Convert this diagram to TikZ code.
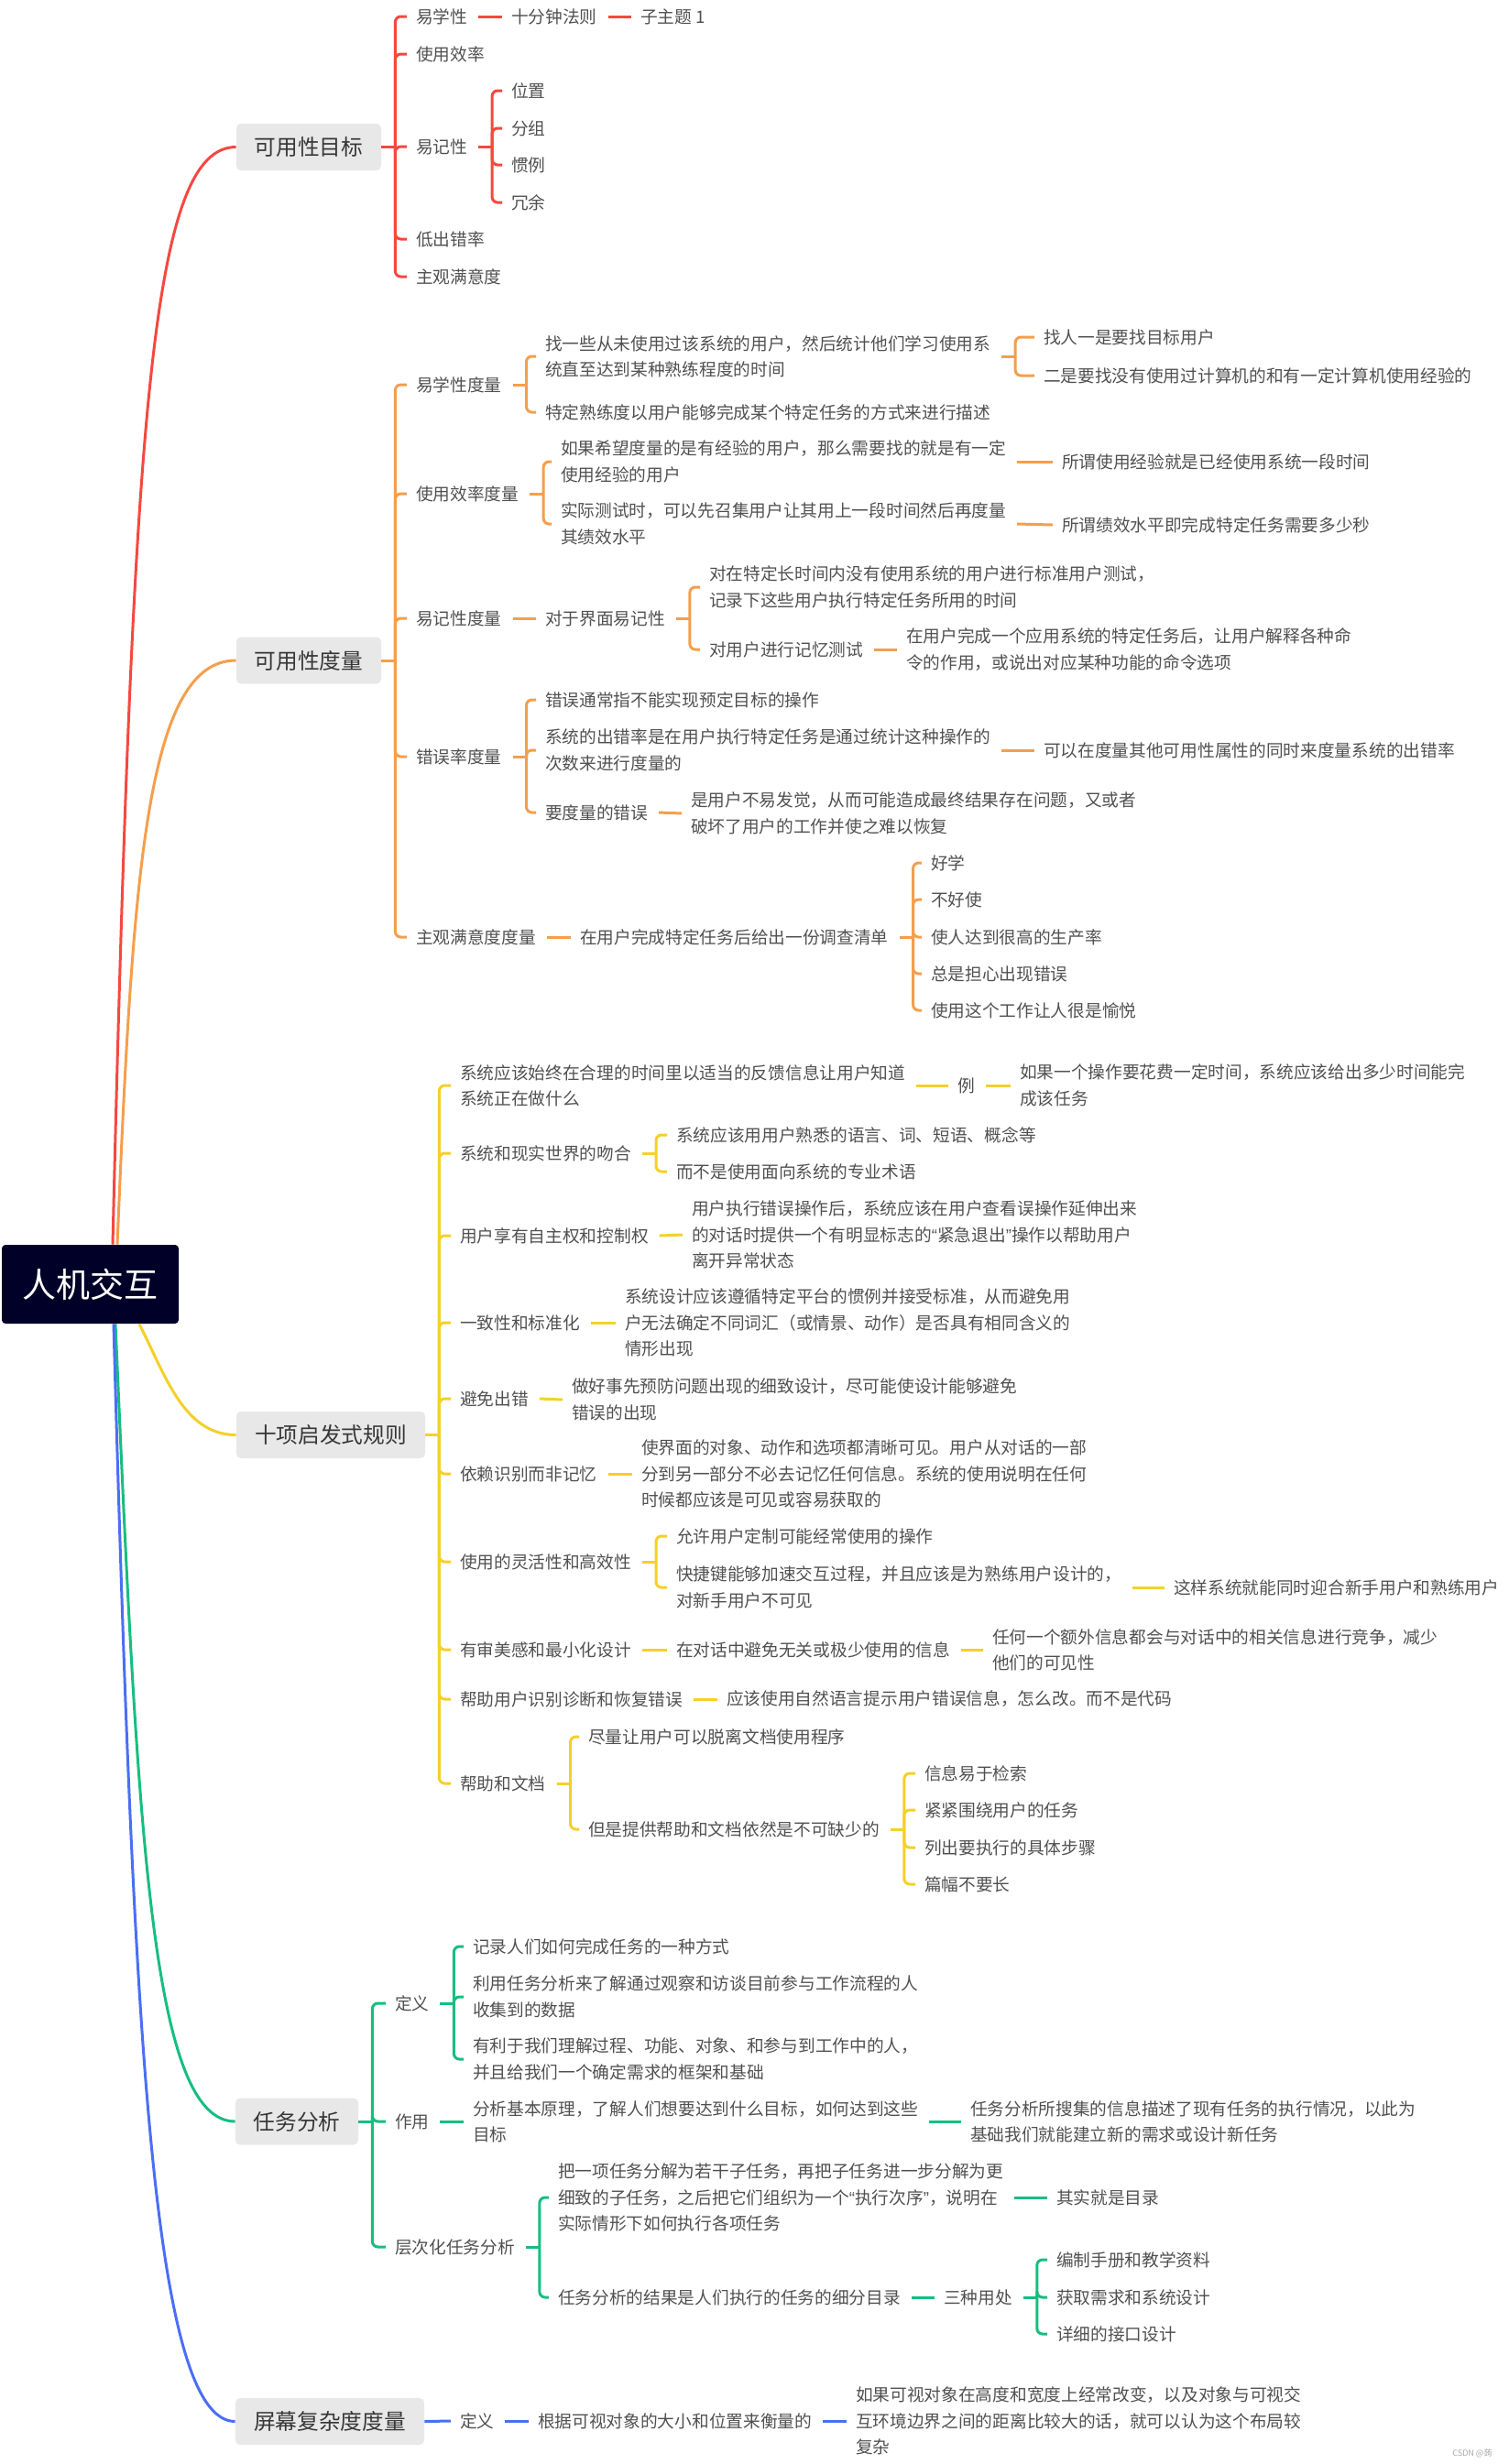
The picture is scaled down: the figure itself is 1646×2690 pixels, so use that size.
\documentclass[tikz,border=0pt]{standalone}
\usepackage{fontspec}
\setmainfont{Noto Sans CJK SC}
\newfontfamily\latinq{Liberation Sans}
\definecolor{cred}{RGB}{245,72,64}
\definecolor{corg}{RGB}{245,158,76}
\definecolor{cyel}{RGB}{245,208,40}
\definecolor{cgrn}{RGB}{22,190,128}
\definecolor{cblu}{RGB}{75,110,245}
\definecolor{boxgray}{RGB}{232,232,232}
\definecolor{rootbg}{RGB}{0,0,40}
\definecolor{txtc}{RGB}{80,80,80}
\definecolor{mtc}{RGB}{55,55,55}
\newcommand\fsmall{\fontsize{9.35pt}{14.2pt}\selectfont}
\newcommand\fmain{\fontsize{11.85pt}{14pt}\selectfont}
\newcommand\froot{\fontsize{18.5pt}{20pt}\selectfont}
\newcommand\lqm{{\latinq “}}
\newcommand\rqm{{\latinq ”}}
% fork: [gap]{style}{parent}{children}
\newcommand\frk[4][6pt]{%
  \draw[#2] ([xshift=#1]#3.east) -- ++(7.5pt,0) coordinate (#3s);
  \foreach \cc in {#4}{\draw[#2,rounded corners=3pt] (#3s) |- ([xshift=-5pt]\cc.west);}
}
% single link
\newcommand\lnk[3]{\draw[#1] ([xshift=6pt]#2.east) -- ([xshift=-5pt]#3.west);}
\begin{document}
\begin{tikzpicture}[x=0.5pt,y=-0.5pt,
  tx/.style={anchor=west,inner sep=0pt,outer sep=0pt,font=\fsmall,text=txtc,align=left},
  mtopic/.style={fill=boxgray,rounded corners=2.5pt,inner sep=0pt,font=\fmain,text=mtc,minimum height=25.5pt},
  lr/.style={draw=cred,line width=1.5pt},
  lo/.style={draw=corg,line width=1.5pt},
  ly/.style={draw=cyel,line width=1.5pt},
  lg/.style={draw=cgrn,line width=1.5pt},
  lb/.style={draw=cblu,line width=1.5pt}]
\useasboundingbox (0,0) rectangle (1646,2690);

% root
\node[fill=rootbg,rounded corners=2pt,minimum width=96.5pt,minimum height=43pt,inner sep=0pt,text=white,font=\froot] (root) at (98.5,1402) {人机交互};

% main topics
\node[mtopic,minimum width=79pt] (g1) at (337,160.5) {可用性目标};
\node[mtopic,minimum width=79pt] (g2) at (337,721) {可用性度量};
\node[mtopic,minimum width=103pt] (g3) at (361,1566.5) {十项启发式规则};
\node[mtopic,minimum width=67pt] (g4) at (324,2316) {任务分析};
\node[mtopic,minimum width=103pt] (g5) at (360,2643.5) {屏幕复杂度度量};

% root curves
\draw[lr] ([xshift=12.25pt]root.north) .. controls (145,450) and (165,160.5) .. (g1.west);
\draw[lo] ([xshift=14.75pt]root.north) .. controls (145,950) and (160,721) .. (g2.west);
\draw[ly] ([xshift=26.75pt]root.south) .. controls (180,1500) and (200,1566.5) .. (g3.west);
\draw[lg] ([xshift=13.75pt]root.south) .. controls (150,2000) and (165,2316) .. (g4.west);
\draw[lb] ([xshift=12.75pt]root.south) .. controls (145,2200) and (165,2643.5) .. (g5.west);

% ===== red branch =====
\node[tx] (a1) at (454,18) {易学性};
\node[tx] (a1a) at (558,18) {十分钟法则};
\node[tx] (a1b) at (699,18) {子主题 1};
\node[tx] (a2) at (454,59) {使用效率};
\node[tx] (a3) at (454,160) {易记性};
\node[tx] (a3a) at (558,99) {位置};
\node[tx] (a3b) at (558,140) {分组};
\node[tx] (a3c) at (558,180) {惯例};
\node[tx] (a3d) at (558,221) {冗余};
\node[tx] (a4) at (454,261) {低出错率};
\node[tx] (a5) at (454,302) {主观满意度};
\frk[0pt]{lr}{g1}{a1,a2,a3,a4,a5}
\lnk{lr}{a1}{a1a}
\lnk{lr}{a1a}{a1b}
\frk{lr}{a3}{a3a,a3b,a3c,a3d}

% ===== orange branch =====
\node[tx] (b1) at (454,420) {易学性度量};
\node[tx] (b1a) at (595,389) {找一些从未使用过该系统的用户，然后统计他们学习使用系\\统直至达到某种熟练程度的时间};
\node[tx] (b1a1) at (1139,368) {找人一是要找目标用户};
\node[tx] (b1a2) at (1139,410) {二是要找没有使用过计算机的和有一定计算机使用经验的};
\node[tx] (b1b) at (595,450) {特定熟练度以用户能够完成某个特定任务的方式来进行描述};
\node[tx] (b2) at (454,539) {使用效率度量};
\node[tx] (b2a) at (612,504) {如果希望度量的是有经验的用户，那么需要找的就是有一定\\使用经验的用户};
\node[tx] (b2a1) at (1159,504) {所谓使用经验就是已经使用系统一段时间};
\node[tx] (b2b) at (612,572) {实际测试时，可以先召集用户让其用上一段时间然后再度量\\其绩效水平};
\node[tx] (b2b1) at (1159,573) {所谓绩效水平即完成特定任务需要多少秒};
\node[tx] (b3) at (454,675) {易记性度量};
\node[tx] (b3a) at (595,675) {对于界面易记性};
\node[tx] (b3a1) at (774,641) {对在特定长时间内没有使用系统的用户进行标准用户测试，\\记录下这些用户执行特定任务所用的时间};
\node[tx] (b3a2) at (774,709) {对用户进行记忆测试};
\node[tx] (b3a2a) at (989,709) {在用户完成一个应用系统的特定任务后，让用户解释各种命\\令的作用，或说出对应某种功能的命令选项};
\node[tx] (b4) at (454,826) {错误率度量};
\node[tx] (b4a) at (595,764) {错误通常指不能实现预定目标的操作};
\node[tx] (b4b) at (595,819) {系统的出错率是在用户执行特定任务是通过统计这种操作的\\次数来进行度量的};
\node[tx] (b4b1) at (1139,819) {可以在度量其他可用性属性的同时来度量系统的出错率};
\node[tx] (b4c) at (595,887) {要度量的错误};
\node[tx] (b4c1) at (754,888) {是用户不易发觉，从而可能造成最终结果存在问题，又或者\\破坏了用户的工作并使之难以恢复};
\node[tx] (b5) at (454,1023) {主观满意度度量};
\node[tx] (b5a) at (633,1023) {在用户完成特定任务后给出一份调查清单};
\node[tx] (b5a1) at (1016,942) {好学};
\node[tx] (b5a2) at (1016,982) {不好使};
\node[tx] (b5a3) at (1016,1023) {使人达到很高的生产率};
\node[tx] (b5a4) at (1016,1063) {总是担心出现错误};
\node[tx] (b5a5) at (1016,1103) {使用这个工作让人很是愉悦};
\frk[0pt]{lo}{g2}{b1,b2,b3,b4,b5}
\frk{lo}{b1}{b1a,b1b}
\frk{lo}{b1a}{b1a1,b1a2}
\frk{lo}{b2}{b2a,b2b}
\lnk{lo}{b2a}{b2a1}
\lnk{lo}{b2b}{b2b1}
\lnk{lo}{b3}{b3a}
\frk{lo}{b3a}{b3a1,b3a2}
\lnk{lo}{b3a2}{b3a2a}
\frk{lo}{b4}{b4a,b4b,b4c}
\lnk{lo}{b4b}{b4b1}
\lnk{lo}{b4c}{b4c1}
\lnk{lo}{b5}{b5a}
\frk{lo}{b5a}{b5a1,b5a2,b5a3,b5a4,b5a5}

% ===== yellow branch =====
\node[tx] (c1) at (502,1185) {系统应该始终在合理的时间里以适当的反馈信息让用户知道\\系统正在做什么};
\node[tx] (c1a) at (1045,1185) {例};
\node[tx] (c1a1) at (1113,1185) {如果一个操作要花费一定时间，系统应该给出多少时间能完\\成该任务};
\node[tx] (c2) at (502,1259) {系统和现实世界的吻合};
\node[tx] (c2a) at (738,1239) {系统应该用用户熟悉的语言、词、短语、概念等};
\node[tx] (c2b) at (738,1279) {而不是使用面向系统的专业术语};
\node[tx] (c3) at (502,1349) {用户享有自主权和控制权};
\node[tx] (c3a) at (755,1348) {用户执行错误操作后，系统应该在用户查看误操作延伸出来\\的对话时提供一个有明显标志的\lqm 紧急退出\rqm 操作以帮助用户\\离开异常状态};
\node[tx] (c4) at (502,1444) {一致性和标准化};
\node[tx] (c4a) at (682,1444) {系统设计应该遵循特定平台的惯例并接受标准，从而避免用\\户无法确定不同词汇（或情景、动作）是否具有相同含义的\\情形出现};
\node[tx] (c5) at (502,1527) {避免出错};
\node[tx] (c5a) at (624,1528) {做好事先预防问题出现的细致设计，尽可能使设计能够避免\\错误的出现};
\node[tx] (c6) at (502,1609) {依赖识别而非记忆};
\node[tx] (c6a) at (700,1609) {使界面的对象、动作和选项都清晰可见。用户从对话的一部\\分到另一部分不必去记忆任何信息。系统的使用说明在任何\\时候都应该是可见或容易获取的};
\node[tx] (c7) at (502,1705) {使用的灵活性和高效性};
\node[tx] (c7a) at (738,1677) {允许用户定制可能经常使用的操作};
\node[tx] (c7b) at (738,1733) {快捷键能够加速交互过程，并且应该是为熟练用户设计的，\\对新手用户不可见};
\node[tx] (c7b1) at (1281,1733) {这样系统就能同时迎合新手用户和熟练用户};
\node[tx] (c8) at (502,1801) {有审美感和最小化设计};
\node[tx] (c8a) at (738,1801) {在对话中避免无关或极少使用的信息};
\node[tx] (c8a1) at (1083,1801) {任何一个额外信息都会与对话中的相关信息进行竞争，减少\\他们的可见性};
\node[tx] (c9) at (502,1855) {帮助用户识别诊断和恢复错误};
\node[tx] (c9a) at (793,1855) {应该使用自然语言提示用户错误信息，怎么改。而不是代码};
\node[tx] (c10) at (502,1947) {帮助和文档};
\node[tx] (c10a) at (642,1896) {尽量让用户可以脱离文档使用程序};
\node[tx] (c10b) at (642,1997) {但是提供帮助和文档依然是不可缺少的};
\node[tx] (c10b1) at (1009,1936) {信息易于检索};
\node[tx] (c10b2) at (1009,1976) {紧紧围绕用户的任务};
\node[tx] (c10b3) at (1009,2017) {列出要执行的具体步骤};
\node[tx] (c10b4) at (1009,2057) {篇幅不要长};
\frk[0pt]{ly}{g3}{c1,c2,c3,c4,c5,c6,c7,c8,c9,c10}
\lnk{ly}{c1}{c1a}
\lnk{ly}{c1a}{c1a1}
\frk{ly}{c2}{c2a,c2b}
\lnk{ly}{c3}{c3a}
\lnk{ly}{c4}{c4a}
\lnk{ly}{c5}{c5a}
\lnk{ly}{c6}{c6a}
\frk{ly}{c7}{c7a,c7b}
\lnk{ly}{c7b}{c7b1}
\lnk{ly}{c8}{c8a}
\lnk{ly}{c8a}{c8a1}
\lnk{ly}{c9}{c9a}
\frk{ly}{c10}{c10a,c10b}
\frk{ly}{c10b}{c10b1,c10b2,c10b3,c10b4}

% ===== green branch =====
\node[tx] (d1) at (431,2187) {定义};
\node[tx] (d1a) at (516,2125) {记录人们如何完成任务的一种方式};
\node[tx] (d1b) at (516,2180) {利用任务分析来了解通过观察和访谈目前参与工作流程的人\\收集到的数据};
\node[tx] (d1c) at (516,2248) {有利于我们理解过程、功能、对象、和参与到工作中的人，\\并且给我们一个确定需求的框架和基础};
\node[tx] (d2) at (431,2316) {作用};
\node[tx] (d2a) at (516,2316) {分析基本原理，了解人们想要达到什么目标，如何达到这些\\目标};
\node[tx] (d2a1) at (1059,2316) {任务分析所搜集的信息描述了现有任务的执行情况，以此为\\基础我们就能建立新的需求或设计新任务};
\node[tx] (d3) at (431,2453) {层次化任务分析};
\node[tx] (d3a) at (609,2399) {把一项任务分解为若干子任务，再把子任务进一步分解为更\\细致的子任务，之后把它们组织为一个\lqm 执行次序\rqm ，说明在\\实际情形下如何执行各项任务};
\node[tx] (d3a1) at (1153,2399) {其实就是目录};
\node[tx] (d3b) at (609,2508) {任务分析的结果是人们执行的任务的细分目录};
\node[tx] (d3b1) at (1030,2508) {三种用处};
\node[tx] (d3b1a) at (1153,2467) {编制手册和教学资料};
\node[tx] (d3b1b) at (1153,2508) {获取需求和系统设计};
\node[tx] (d3b1c) at (1153,2548) {详细的接口设计};
\frk[0pt]{lg}{g4}{d1,d2,d3}
\frk{lg}{d1}{d1a,d1b,d1c}
\lnk{lg}{d2}{d2a}
\lnk{lg}{d2a}{d2a1}
\frk{lg}{d3}{d3a,d3b}
\lnk{lg}{d3a}{d3a1}
\lnk{lg}{d3b}{d3b1}
\frk{lg}{d3b1}{d3b1a,d3b1b,d3b1c}

% ===== blue branch =====
\node[tx] (e1) at (502,2643) {定义};
\node[tx] (e1a) at (587,2643) {根据可视对象的大小和位置来衡量的};
\node[tx] (e1a1) at (934,2643) {如果可视对象在高度和宽度上经常改变，以及对象与可视交\\互环境边界之间的距离比较大的话，就可以认为这个布局较\\复杂};
\draw[lb] (g5.east) -- ([xshift=-5pt]e1.west);
\lnk{lb}{e1}{e1a}
\lnk{lb}{e1a}{e1a1}

% watermark
\node[anchor=west,inner sep=0pt,font=\fontsize{4.5pt}{5pt}\selectfont,text=black!35] (wm) at (1585,2678) {CSDN @蒟};
\end{tikzpicture}
\end{document}
